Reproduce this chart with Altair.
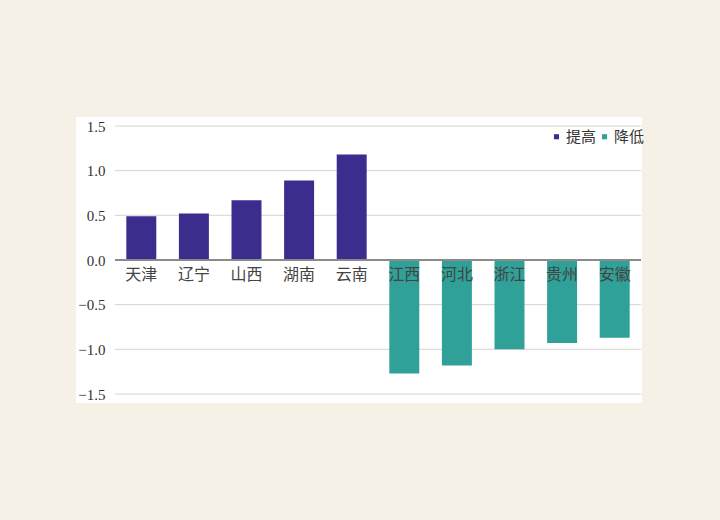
import altair as alt
import pandas as pd

provinces = ["天津", "辽宁", "山西", "湖南", "云南", "江西", "河北", "浙江", "贵州", "安徽"]
values = [0.49, 0.52, 0.67, 0.89, 1.18, -1.27, -1.18, -1.00, -0.93, -0.87]
groups = ["提高", "提高", "提高", "提高", "提高", "降低", "降低", "降低", "降低", "降低"]
y_ticks = [-1.5, -1.0, -0.5, 0.0, 0.5, 1.0, 1.5]

df = pd.DataFrame({"省份": provinces, "值": values, "类型": groups})
grid_df = pd.DataFrame({"刻度": [t for t in y_ticks if t != 0.0]})

FONT = "Liberation Serif, Noto Sans CJK SC"
W, H = 526, 268

xenc = alt.X("省份:N", sort=provinces, axis=None,
             scale=alt.Scale(paddingInner=0.43, paddingOuter=0.215))
yscale = alt.Scale(domain=[-1.5, 1.5], nice=False)

panel = alt.Chart(df).mark_rect(color="white").encode(
    x=alt.value(-39), x2=alt.value(527), y=alt.value(-9), y2=alt.value(277)
)

grid = alt.Chart(grid_df).mark_rule(color="#d4d4d4", strokeWidth=1).encode(
    y=alt.Y("刻度:Q", scale=yscale), x=alt.value(0), x2=alt.value(W)
)

bars = alt.Chart(df).mark_bar().encode(
    x=xenc,
    y=alt.Y("值:Q", scale=yscale, title=None,
            axis=alt.Axis(values=y_ticks, format=".1f", domain=False, ticks=False,
                          grid=False, zindex=1,
                          labelFont=FONT, labelFontSize=15, labelColor="#333333",
                          labelPadding=10)),
    color=alt.Color("类型:N", scale=alt.Scale(domain=["提高", "降低"], range=["#3b2d8e", "#2fa199"]),
                    legend=alt.Legend(title=None, orient="none", legendX=434, legendY=3,
                                      direction="horizontal", symbolType="square",
                                      symbolSize=26, labelFont=FONT, labelFontSize=15,
                                      labelColor="#333333", labelOffset=2,
                                      columnPadding=0, symbolOpacity=1, zindex=1)),
)

zero = alt.Chart(df).mark_rule(color="#8a8a8a", strokeWidth=1).encode(
    y=alt.datum(0), x=alt.value(0), x2=alt.value(W)
)

labels = alt.Chart(df).mark_text(baseline="top", dy=7, font=FONT, fontSize=16, color="#444444").encode(
    x=xenc,
    y=alt.Y("zero:Q", scale=yscale),
    text="省份:N",
).transform_calculate(zero="0")

chart = alt.layer(panel, grid, bars, zero, labels).properties(
    width=W, height=H, background="#f6f1e7",
    padding={"left": 115, "top": 126, "right": 79, "bottom": 126},
    autosize=alt.AutoSizeParams(type="none"),
).configure_view(stroke=None)

chart.save("out.html", embed_options={"renderer": "svg", "actions": False})
